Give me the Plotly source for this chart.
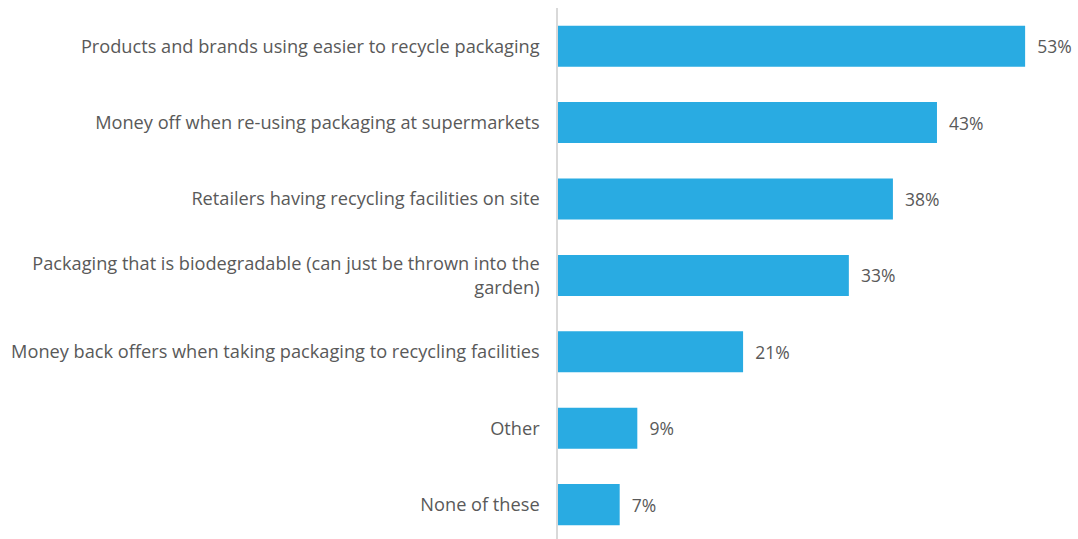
import plotly.graph_objects as go

categories = [
    "Products and brands using easier to recycle packaging",
    "Money off when re-using packaging at supermarkets",
    "Retailers having recycling facilities on site",
    "Packaging that is biodegradable (can just be thrown into the<br>garden)",
    "Money back offers when taking packaging to recycling facilities",
    "Other",
    "None of these",
]
values = [53, 43, 38, 33, 21, 9, 7]
value_labels = [f"{v}%" for v in values]

FONT = "Open Sans, sans-serif"
TEXT_COLOR = "#595959"

fig = go.Figure(
    go.Bar(
        x=values,
        y=categories,
        orientation="h",
        marker=dict(color="#29ABE2", line=dict(width=0)),
        text=["  " + t for t in value_labels],
        textposition="outside",
        cliponaxis=False,
        textfont=dict(family=FONT, size=17.5, color=TEXT_COLOR),
        hoverinfo="skip",
    )
)

fig.update_layout(
    width=1078,
    height=539,
    margin=dict(l=558, r=0, t=8, b=0),
    paper_bgcolor="white",
    plot_bgcolor="white",
    bargap=0.463,
    showlegend=False,
    font=dict(family=FONT, size=18, color=TEXT_COLOR),
)
fig.update_xaxes(range=[0, 59.0], visible=False)
fig.update_yaxes(
    type="category",
    categoryorder="array",
    categoryarray=categories,
    range=[6.45, -0.5],
    showline=True,
    linecolor="#D9D9D9",
    linewidth=1.5,
    showgrid=False,
    ticks="",
    ticklabelstandoff=13,
    tickfont=dict(family=FONT, size=18.2, color=TEXT_COLOR),
)

fig.write_html("out.html")
